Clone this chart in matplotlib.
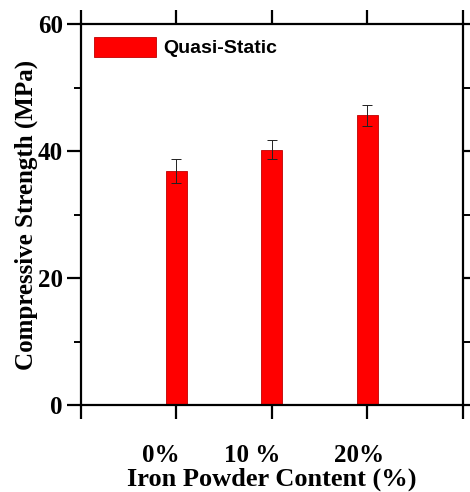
import matplotlib
matplotlib.use("Agg")
import matplotlib.pyplot as plt
from matplotlib.ticker import FixedLocator, MultipleLocator
from matplotlib.transforms import ScaledTranslation

# Compressive strength for each iron powder content
categories = ["0%", "10 %", "20%"]
strength = [36.8, 40.2, 45.6]
strength_err = [1.9, 1.5, 1.7]

# horizontal nudge of each category label, in points
label_shift = [-11, -14, -6]

plt.rcParams["font.family"] = ["Liberation Serif", "DejaVu Serif"]

fig = plt.figure(figsize=(4.70, 4.92), dpi=100)
ax = fig.add_axes([0.1723, 0.1768, 0.8128, 0.7744])

x = list(range(len(categories)))
ax.bar(x, strength, width=0.22, color="#ff0000", edgecolor="#c00000", linewidth=0.6,
       yerr=strength_err, capsize=3.3, error_kw=dict(elinewidth=0.7, capthick=0.7, ecolor="#222222"),
       label="Quasi-Static", zorder=2)

ax.set_xlim(-1, 3)
ax.set_ylim(0, 60)

ax.xaxis.set_major_locator(FixedLocator([-1, 0, 1, 2, 3]))
ax.set_xticklabels([""] + categories + [""])
ax.yaxis.set_major_locator(MultipleLocator(20))
ax.yaxis.set_minor_locator(MultipleLocator(10))

for side in ax.spines.values():
    side.set_linewidth(1.6)

ax.tick_params(axis="both", which="major", direction="out", length=10, width=1.6,
               top=True, right=True, labelsize=18)
ax.tick_params(axis="y", which="minor", direction="out", length=5, width=1.4, right=True)
ax.tick_params(axis="y", which="major", pad=3)
ax.tick_params(axis="x", which="major", pad=18)
for lab in ax.get_xticklabels() + ax.get_yticklabels():
    lab.set_fontweight("bold")
for lab, dx in zip(ax.get_xticklabels()[1:-1], label_shift):
    lab.set_transform(lab.get_transform() + ScaledTranslation(dx / 72, 0, fig.dpi_scale_trans))

ax.set_xlabel("Iron Powder Content (%)", fontsize=19, fontweight="bold", labelpad=0.5)
ax.set_ylabel("Compressive Strength (MPa)", fontsize=18, fontweight="bold", labelpad=0)

ax.legend(loc="upper left", frameon=False, handlelength=3.2, handleheight=1.2,
          borderaxespad=0.25, handletextpad=0.4,
          prop=dict(family="Liberation Sans", weight="bold", size=14))

fig.savefig("out.png", dpi=100)
